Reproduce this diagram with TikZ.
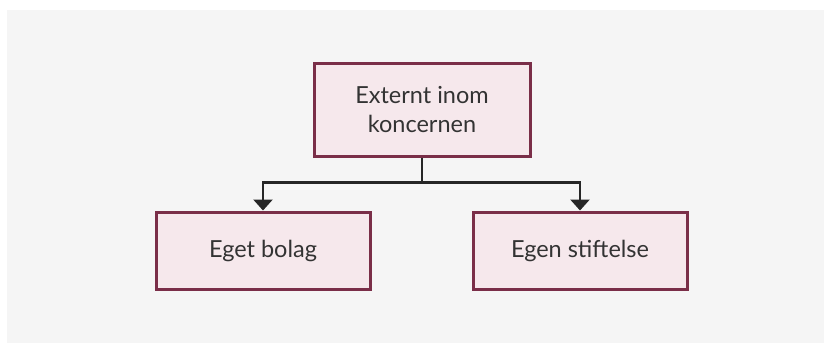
\documentclass[tikz,border=0pt]{standalone}
\usepackage{fontspec}
\setmainfont{Lato}
\usepackage{tikz}
\usetikzlibrary{arrows.meta}

\definecolor{panelgray}{HTML}{F5F5F5}
\definecolor{boxline}{HTML}{7A2E48}
\definecolor{boxfill}{HTML}{F6E8EC}
\definecolor{textgray}{HTML}{333333}

\begin{document}
\begin{tikzpicture}[x=1pt,y=-1pt,
  box/.style={draw=boxline, fill=boxfill, line width=3pt, minimum width=214pt,
    align=center, text=textgray, font=\fontsize{23.5}{29}\selectfont},
  link/.style={line width=2.6pt, black!85}]

% background
\fill[white] (0,0) rectangle (824,343);
\fill[panelgray] (7,10) rectangle (824,343);

\node[box, minimum width=216pt, minimum height=93pt] (group) at (422,109.5) {Externt inom\\koncernen};
\node[box, minimum height=77pt] (company) at (263,250.5) {Eget bolag};
\node[box, minimum height=77pt] (foundation) at (580,250.5) {Egen stiftelse};

% split
\draw[link] (group.south) -- ++(0,25) coordinate (split);
\draw[link, -{Triangle[width=19pt,length=11pt]}] (split) -| (company.north);
\draw[link, -{Triangle[width=19pt,length=11pt]}] (split) -| (foundation.north);

\end{tikzpicture}
\end{document}
